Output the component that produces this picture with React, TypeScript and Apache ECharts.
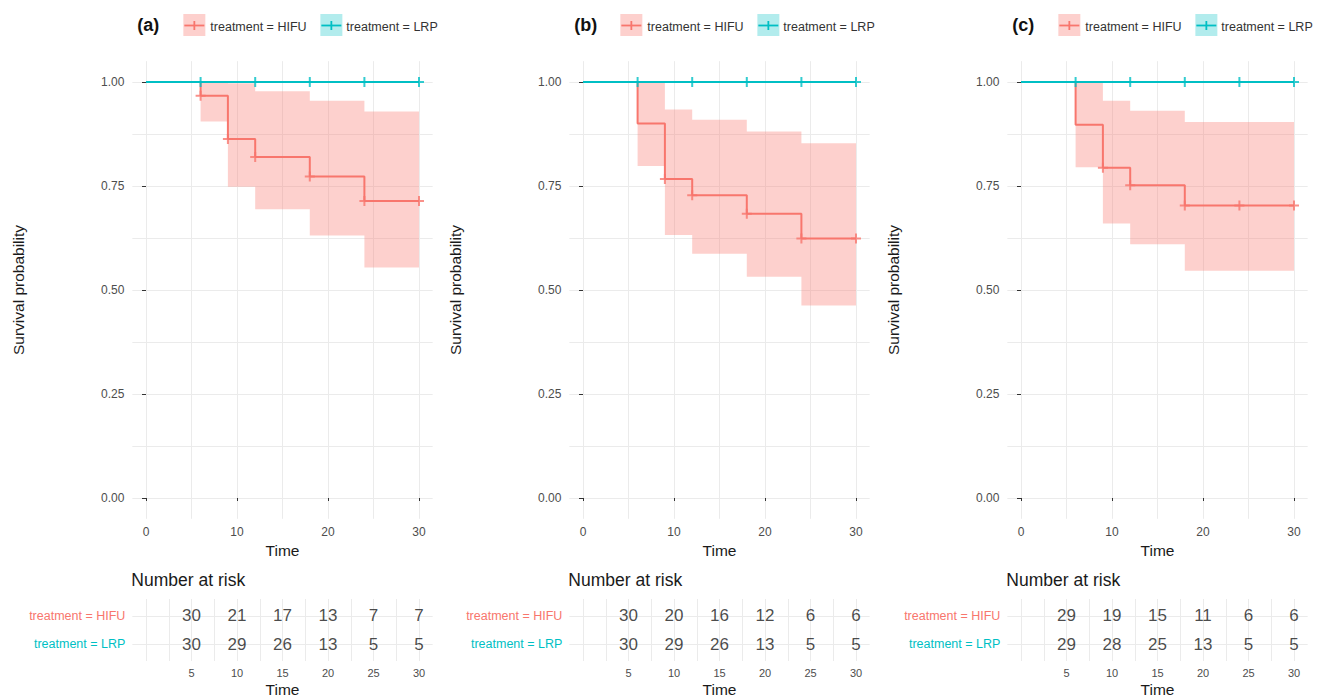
import React, { useEffect, useRef } from 'react';
import * as echarts from 'echarts';

// ---------- data ----------
const panelLabels = ['(a)', '(b)', '(c)'];
const groupNames = ['treatment = HIFU', 'treatment = LRP'];

// Kaplan-Meier step points (HIFU)
const hifuTimes = [0, 6, 9, 12, 18, 24, 30];
const hifuSurvA = [1, 0.967, 0.863, 0.82, 0.773, 0.714, 0.714];
const hifuSurvB = [1, 0.9, 0.767, 0.728, 0.683, 0.624, 0.624];
const hifuSurvC = [1, 0.897, 0.794, 0.752, 0.703, 0.703, 0.703];

// censor marks (HIFU)
const hifuCensorA = [6, 9, 12, 18, 24, 30];
const hifuCensorB = [9, 12, 18, 24, 30];
const hifuCensorC = [9, 12, 18, 24, 30];

// confidence bands (HIFU)
const ciStart = [6, 9, 12, 18, 24];
const ciEnd = [9, 12, 18, 24, 30];
const ciLowerA = [0.905, 0.748, 0.694, 0.631, 0.554];
const ciUpperA = [1.0, 0.997, 0.978, 0.955, 0.929];
const ciLowerB = [0.798, 0.632, 0.587, 0.532, 0.463];
const ciUpperB = [1.0, 0.934, 0.909, 0.881, 0.853];
const ciLowerC = [0.795, 0.66, 0.61, 0.546, 0.546];
const ciUpperC = [1.0, 0.955, 0.931, 0.904, 0.904];

// LRP
const lrpTimes = [0, 30];
const lrpSurv = [1, 1];
const lrpCensor = [6, 12, 18, 24, 30];

// number at risk
const riskTimes = [5, 10, 15, 20, 25, 30];
const riskHifuA = [30, 21, 17, 13, 7, 7];
const riskLrpA = [30, 29, 26, 13, 5, 5];
const riskHifuB = [30, 20, 16, 12, 6, 6];
const riskLrpB = [30, 29, 26, 13, 5, 5];
const riskHifuC = [29, 19, 15, 11, 6, 6];
const riskLrpC = [29, 28, 25, 13, 5, 5];

// axis breaks
const xLabelTicks = [0, 10, 20, 30];
const xGridTicks = [0, 5, 10, 15, 20, 25, 30];
const yLabelTicks = [0, 0.25, 0.5, 0.75, 1];
const yGridTicks = [0, 0.125, 0.25, 0.375, 0.5, 0.625, 0.75, 0.875, 1];
const tableGridTicks = [0, 2.5, 5, 7.5, 10, 12.5, 15, 17.5, 20, 22.5, 25, 27.5, 30];

// ---------- style ----------
const RED = '#F8766D';
const TEAL = '#00BFC4';
const BAND_RED = 'rgba(248,118,109,0.34)';
const KEY_RED = 'rgba(248,118,109,0.34)';
const KEY_TEAL = 'rgba(0,191,196,0.3)';
const GRID = '#ebebeb';
const FONT = 'Liberation Sans, Arial, sans-serif';
const PLUS = 'path://M4,0H6V4H10V6H6V10H4V6H0V4H4Z';

const gridLefts = [132.35, 569.35, 1007.35];
const gridWidth = 300.3;
const plotTop = 61.2;
const plotHeight = 457.6;
const tableTop = 599;
const tableHeight = 62;

const panels = [
  { surv: hifuSurvA, censor: hifuCensorA, lo: ciLowerA, hi: ciUpperA, rh: riskHifuA, rl: riskLrpA },
  { surv: hifuSurvB, censor: hifuCensorB, lo: ciLowerB, hi: ciUpperB, rh: riskHifuB, rl: riskLrpB },
  { surv: hifuSurvC, censor: hifuCensorC, lo: ciLowerC, hi: ciUpperC, rh: riskHifuC, rl: riskLrpC },
];

function stepValue(times: number[], surv: number[], t: number) {
  let v = surv[0];
  for (let k = 0; k < times.length; k++) if (times[k] <= t) v = surv[k];
  return v;
}

function buildOption() {
  const grid: any[] = [];
  const xAxis: any[] = [];
  const yAxis: any[] = [];
  const series: any[] = [];
  const title: any[] = [];
  const graphic: any[] = [];

  panels.forEach((p, i) => {
    const L = gridLefts[i];
    const gMain = grid.length;
    grid.push({ left: L, top: plotTop, width: gridWidth, height: plotHeight, containLabel: false });
    const gTab = grid.length;
    grid.push({ left: L, top: tableTop, width: gridWidth, height: tableHeight, containLabel: false });

    const xG = xAxis.length;
    xAxis.push({
      type: 'value', gridIndex: gMain, min: -1.5, max: 31.5, position: 'bottom',
      axisLine: { show: false },
      axisTick: { show: false, customValues: xGridTicks },
      axisLabel: { show: false },
      splitLine: { show: true, lineStyle: { color: GRID, width: 1 } },
    });
    xAxis.push({
      type: 'value', gridIndex: gMain, min: -1.5, max: 31.5, position: 'bottom',
      axisLine: { show: false },
      axisTick: { show: true, customValues: xLabelTicks, length: 3, lineStyle: { color: '#333', width: 1 } },
      axisLabel: { customValues: xLabelTicks, margin: 7, fontSize: 12, color: '#4d4d4d', fontFamily: FONT },
      splitLine: { show: false },
      name: 'Time', nameLocation: 'middle', nameGap: 22,
      nameTextStyle: { fontSize: 15.5, color: '#1a1a1a', fontFamily: FONT },
    });
    const xT = xAxis.length;
    xAxis.push({
      type: 'value', gridIndex: gTab, min: -1.5, max: 31.5, position: 'bottom',
      axisLine: { show: false },
      axisTick: { show: false, customValues: tableGridTicks },
      axisLabel: { customValues: riskTimes, margin: 6, fontSize: 11, color: '#4d4d4d', fontFamily: FONT },
      splitLine: { show: true, lineStyle: { color: GRID, width: 1 } },
      name: 'Time', nameLocation: 'middle', nameGap: 20,
      nameTextStyle: { fontSize: 15.5, color: '#1a1a1a', fontFamily: FONT },
    });

    const yG = yAxis.length;
    yAxis.push({
      type: 'value', gridIndex: gMain, min: -0.05, max: 1.05, position: 'left',
      axisLine: { show: false },
      axisTick: { show: false, customValues: yGridTicks },
      axisLabel: { show: false },
      splitLine: { show: true, lineStyle: { color: GRID, width: 1 } },
    });
    yAxis.push({
      type: 'value', gridIndex: gMain, min: -0.05, max: 1.05, position: 'left',
      axisLine: { show: false },
      axisTick: { show: true, customValues: yLabelTicks, length: 4, lineStyle: { color: '#333', width: 1 } },
      axisLabel: {
        customValues: yLabelTicks, margin: 8, fontSize: 12, color: '#4d4d4d', fontFamily: FONT,
        formatter: (v: number) => v.toFixed(2),
      },
      splitLine: { show: false },
      name: 'Survival probability', nameLocation: 'middle', nameGap: 106, nameRotate: 90,
      nameTextStyle: { fontSize: 15.5, color: '#1a1a1a', fontFamily: FONT },
    });
    const yT = yAxis.length;
    yAxis.push({
      type: 'value', gridIndex: gTab, min: 0.4, max: 2.6, inverse: true, position: 'left',
      axisLine: { show: false },
      axisTick: { show: false, customValues: [1, 2] },
      axisLabel: {
        customValues: [1, 2], margin: 7,
        formatter: (v: number) => (v === 1 ? '{h|' + groupNames[0] + '}' : '{l|' + groupNames[1] + '}'),
        rich: {
          h: { color: RED, fontSize: 12.5, fontFamily: FONT },
          l: { color: TEAL, fontSize: 12.5, fontFamily: FONT },
        },
      },
      splitLine: { show: true, lineStyle: { color: GRID, width: 1 } },
    });

    // confidence band
    const bandData = ciStart.map((s, k) => [s, ciEnd[k], p.lo[k], p.hi[k]]);
    series.push({
      type: 'custom', xAxisIndex: xG, yAxisIndex: yG, z: 1,
      encode: { x: [0, 1], y: [2, 3] },
      data: bandData,
      renderItem: (params: any, api: any) => {
        if (params.dataIndex !== 0) return { type: 'group', children: [] };
        const upper: number[][] = [];
        const lower: number[][] = [];
        bandData.forEach((d) => {
          upper.push(api.coord([d[0], d[3]]));
          upper.push(api.coord([d[1], d[3]]));
          lower.push(api.coord([d[0], d[2]]));
          lower.push(api.coord([d[1], d[2]]));
        });
        const pts = upper.concat(lower.reverse());
        return { type: 'polygon', shape: { points: pts }, style: { fill: BAND_RED } };
      },
      silent: true,
    });
    // HIFU curve
    series.push({
      type: 'line', name: groupNames[0], xAxisIndex: xG, yAxisIndex: yG, z: 2,
      step: 'end', showSymbol: false, symbol: 'none',
      data: hifuTimes.map((t, k) => [t, p.surv[k]]),
      lineStyle: { color: RED, width: 2 }, itemStyle: { color: RED },
    });
    // LRP curve
    series.push({
      type: 'line', name: groupNames[1], xAxisIndex: xG, yAxisIndex: yG, z: 3,
      step: 'end', showSymbol: false, symbol: 'none',
      data: lrpTimes.map((t, k) => [t, lrpSurv[k]]),
      lineStyle: { color: TEAL, width: 2 }, itemStyle: { color: TEAL },
    });
    // censor marks
    series.push({
      type: 'scatter', xAxisIndex: xG, yAxisIndex: yG, z: 4, symbol: PLUS, symbolSize: 10,
      data: p.censor.map((t) => [t, stepValue(hifuTimes, p.surv, t)]),
      itemStyle: { color: RED },
    });
    series.push({
      type: 'scatter', xAxisIndex: xG, yAxisIndex: yG, z: 5, symbol: PLUS, symbolSize: 10,
      data: lrpCensor.map((t) => [t, stepValue(lrpTimes, lrpSurv, t)]),
      itemStyle: { color: TEAL },
    });
    // risk table
    [p.rh, p.rl].forEach((vals, r) => {
      series.push({
        type: 'scatter', xAxisIndex: xT, yAxisIndex: yT, z: 4, symbolSize: 1,
        itemStyle: { color: 'rgba(0,0,0,0)' },
        data: riskTimes.map((t, k) => [t, r + 1, vals[k]]),
        label: {
          show: true, position: 'inside', formatter: (q: any) => String(q.value[2]),
          fontSize: 17, color: '#1a1a1a', fontFamily: FONT,
        },
      });
    });

    title.push({
      text: 'Number at risk', left: L - 1, top: 571, padding: 0,
      textStyle: { fontSize: 17.5, fontWeight: 'normal', color: '#1a1a1a', fontFamily: FONT },
    });

    // legend (drawn)
    graphic.push({
      type: 'text', left: L + 5, top: 16,
      style: { text: panelLabels[i], fontSize: 18, fontWeight: 'bold', fill: '#111', fontFamily: FONT },
    });
    const keys = [
      { dx: 51, tx: 78, fill: KEY_RED, stroke: RED, label: groupNames[0] },
      { dx: 188, tx: 214, fill: KEY_TEAL, stroke: TEAL, label: groupNames[1] },
    ];
    keys.forEach((k) => {
      const x = L + k.dx;
      graphic.push({ type: 'rect', shape: { x, y: 14, width: 22, height: 22 }, style: { fill: k.fill } });
      graphic.push({ type: 'line', shape: { x1: x + 1, y1: 25.5, x2: x + 21, y2: 25.5 }, style: { stroke: k.stroke, lineWidth: 1.8 } });
      graphic.push({ type: 'line', shape: { x1: x + 11, y1: 21, x2: x + 11, y2: 30 }, style: { stroke: k.stroke, lineWidth: 1.8 } });
      graphic.push({
        type: 'text', x: L + k.tx, y: 27,
        style: { text: k.label, fontSize: 12.5, fill: '#333', fontFamily: FONT, textVerticalAlign: 'middle', verticalAlign: 'middle' },
      });
    });
  });

  return {
    animation: false,
    backgroundColor: '#ffffff',
    textStyle: { fontFamily: FONT },
    title,
    grid,
    xAxis,
    yAxis,
    series,
    graphic,
  };
}

export default function App() {
  const ref = useRef<HTMLDivElement>(null);
  useEffect(() => {
    if (!ref.current) return;
    const chart = echarts.init(ref.current, undefined, { renderer: 'svg' });
    chart.setOption(buildOption() as any);
    return () => chart.dispose();
  }, []);
  return (
    <div
      ref={ref}
      style={{ position: 'fixed', left: 0, top: 0, width: 1319, height: 698, background: '#fff' }}
    />
  );
}
